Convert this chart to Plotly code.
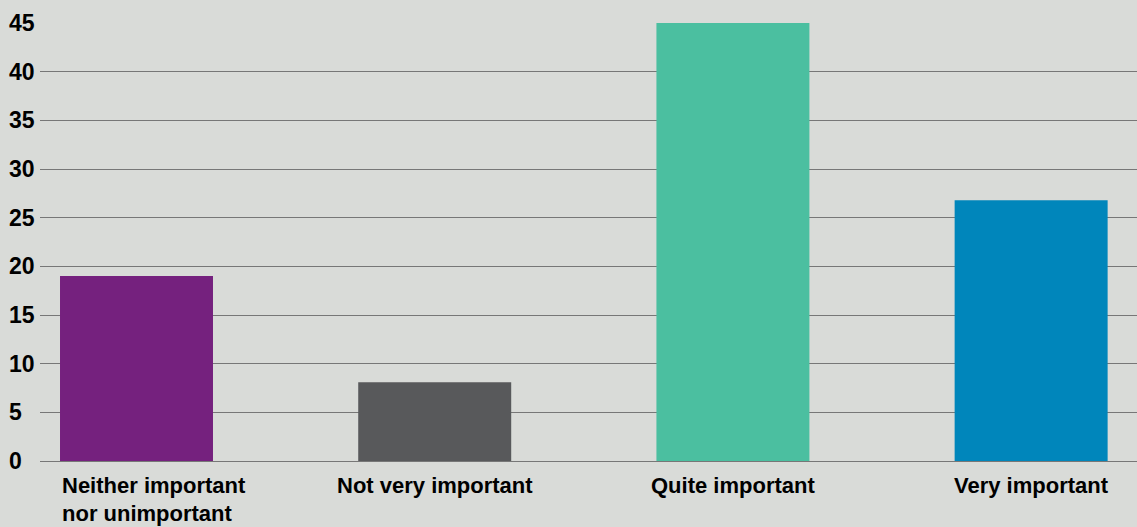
import plotly.graph_objects as go

# Survey responses (%)
categories = ["Neither important<br>nor unimportant", "Not very important",
              "Quite important", "Very important"]
values = [19.0, 8.1, 45.0, 26.8]
colors = ["#75217E", "#58595B", "#4BBFA0", "#0086BB"]
y_ticks = [0, 5, 10, 15, 20, 25, 30, 35, 40, 45]

FONT = "Liberation Sans, Arial, sans-serif"
BG = "#D9DBD8"
BAR_WIDTH = 0.513
LINE_GAP = 28  # px between wrapped label lines

positions = list(range(len(categories)))

fig = go.Figure(
    go.Bar(
        x=positions,
        y=values,
        marker=dict(color=colors, line=dict(width=0)),
        width=BAR_WIDTH,
        hoverinfo="skip",
    )
)

annotations = []
# Category labels under each bar; the first one is left-aligned to its bar
for i, label in enumerate(categories):
    for j, line in enumerate(label.split("<br>")):
        ann = dict(
            y=0, yref="paper", yanchor="middle", yshift=-24 - j * LINE_GAP,
            text=f"<b>{line}</b>", showarrow=False,
            font=dict(family=FONT, size=22, color="#000000"),
        )
        if i == 0:
            ann.update(x=positions[i] - BAR_WIDTH / 2, xref="x", xanchor="left")
        else:
            ann.update(x=positions[i], xref="x", xanchor="center")
        annotations.append(ann)

# Value-axis labels, left-aligned at the page edge
for t in y_ticks:
    annotations.append(dict(
        x=0, xref="paper", xanchor="left", xshift=-33,
        y=t, yref="y", yanchor="middle",
        text=f"<b>{t}</b>", showarrow=False,
        font=dict(family=FONT, size=23, color="#000000"),
    ))

fig.update_layout(
    width=1137,
    height=527,
    margin=dict(l=40, r=0, t=23, b=66),
    paper_bgcolor=BG,
    plot_bgcolor=BG,
    showlegend=False,
    annotations=annotations,
    xaxis=dict(
        range=[-0.3236, 3.355],
        showticklabels=False,
        showgrid=False,
        zeroline=False,
        showline=False,
        ticks="",
    ),
    yaxis=dict(
        range=[0, 45],
        tickvals=y_ticks,
        showticklabels=False,
        showgrid=True,
        gridcolor="#777777",
        gridwidth=1,
        zeroline=True,
        zerolinecolor="#777777",
        zerolinewidth=1,
        showline=False,
        ticks="",
    ),
)

fig.write_html("out.html")
